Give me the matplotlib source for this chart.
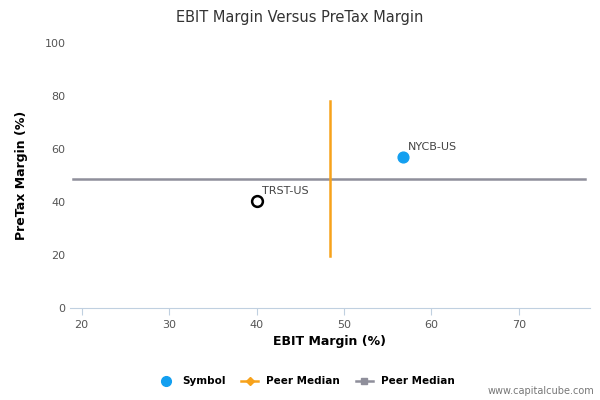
import matplotlib
matplotlib.use("Agg")
import matplotlib.pyplot as plt
from matplotlib.lines import Line2D

symbols = ["NYCB-US", "TRST-US"]
ebit = [56.7, 40.0]
pretax = [57.0, 40.5]
filled = [True, False]
peer_x_median = 48.4
peer_x_range = [19.5, 78.0]
peer_y_median = 48.5
peer_y_range = [19.0, 77.5]

fig = plt.figure(figsize=(6, 4), dpi=100)
ax = fig.add_axes([0.117, 0.23, 0.866, 0.6625])
ax.set_xlim(18.7, 78.1)
ax.set_ylim(0, 100)

ax.plot(peer_y_range, [peer_y_median]*2, color="#8f8f9b", lw=1.8, zorder=2)
ax.plot([peer_x_median]*2, peer_x_range, color="#f7a21b", lw=1.8, zorder=3)
for s, x, y, f in zip(symbols, ebit, pretax, filled):
    if f:
        ax.scatter([x], [y], s=60, color="#139ff0", zorder=4)
    else:
        ax.scatter([x], [y], s=60, facecolor="white", edgecolor="black", lw=1.8, zorder=4)
    ax.annotate(s, (x, y), xytext=(4, 5), textcoords="offset points", fontsize=8, color="#444444")

for sp in ["top", "right", "left"]:
    ax.spines[sp].set_visible(False)
ax.spines["bottom"].set_color("#c0d0e0")
ax.set_xticks([20, 30, 40, 50, 60, 70])
ax.set_yticks([0, 20, 40, 60, 80, 100])
ax.tick_params(axis="both", length=0, labelsize=8, colors="#555555")
ax.tick_params(axis="x", length=5, color="#c0d0e0")
ax.set_xlabel("EBIT Margin (%)", fontsize=9, fontweight="bold")
ax.set_ylabel("PreTax Margin (%)", fontsize=9, fontweight="bold", labelpad=12)
fig.text(0.5, 0.957, "EBIT Margin Versus PreTax Margin", ha="center", va="center", fontsize=10.5, color="#333333")

handles = [
    Line2D([], [], marker="o", color="#139ff0", ls="none", markersize=7),
    Line2D([], [], marker="D", color="#f7a21b", markersize=4, lw=1.8),
    Line2D([], [], marker="s", color="#8f8f9b", markersize=5, lw=1.8),
]
fig.legend(handles, ["Symbol", "Peer Median", "Peer Median"], loc="center", bbox_to_anchor=(0.51, 0.047),
           ncol=3, frameon=False, prop={"size": 7.5, "weight": "bold"}, handlelength=1.6, columnspacing=1.5)
fig.text(0.99, 0.015, "www.capitalcube.com", ha="right", fontsize=7, color="#777777")
fig.savefig("out.png", dpi=100)
